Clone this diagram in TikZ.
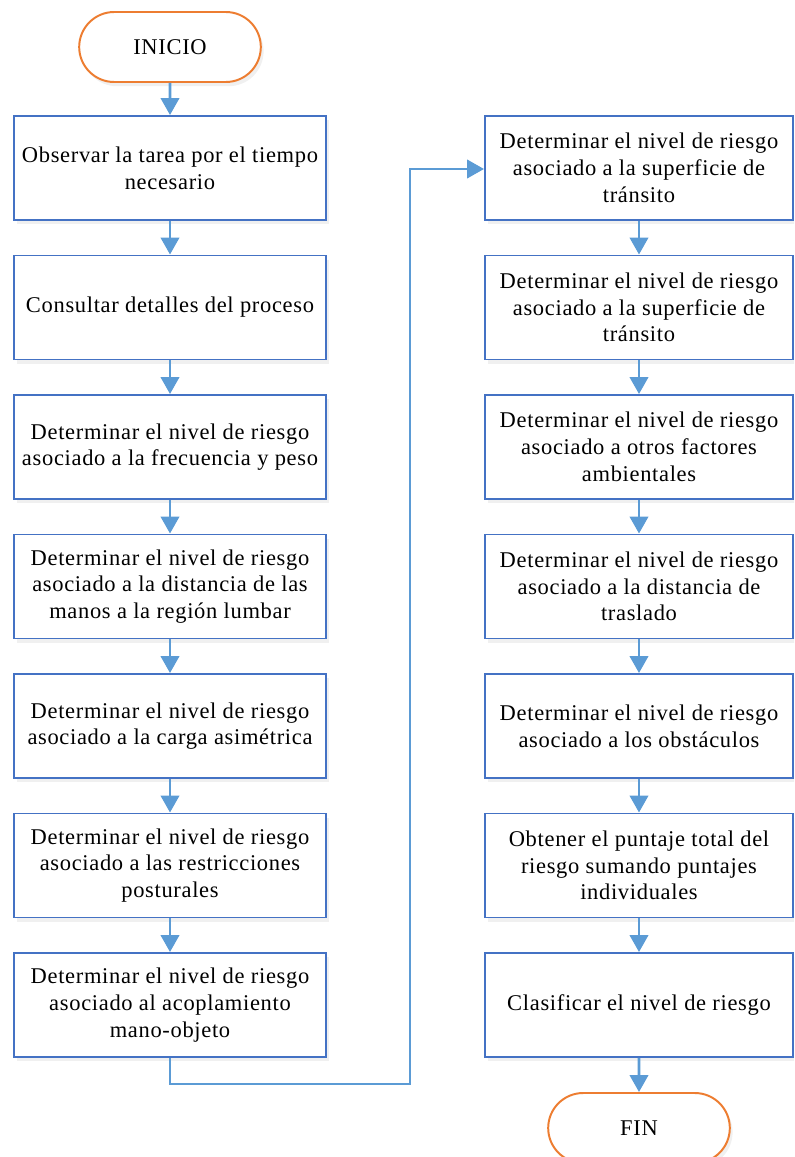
\documentclass[tikz,border=0pt]{standalone}
\usepackage{fontspec}
\setmainfont[LetterSpace=3]{Liberation Serif}
\usetikzlibrary{arrows.meta,shapes,positioning,shadows}

\definecolor{boxblue}{HTML}{4472C4}
\definecolor{lineblue}{HTML}{5B9BD5}
\definecolor{termorange}{HTML}{ED7D31}

\tikzset{
    paso/.style={draw=boxblue, line width=1.4pt, fill=white, align=center,
        minimum width=7.8cm, minimum height=2.6cm, inner sep=2pt,
        font=\fontsize{16}{19}\selectfont,
        drop shadow={opacity=0.12, shadow xshift=2pt, shadow yshift=-3pt}},
    terminal/.style={draw=termorange, line width=1.4pt, fill=white,
        rounded rectangle, minimum width=4.775cm, minimum height=1.75cm,
        font=\fontsize{16}{19}\selectfont,
        drop shadow={opacity=0.12, shadow xshift=2pt, shadow yshift=-3pt}},
    flecha/.style={draw=lineblue, line width=2pt,
        -{Triangle[width=13pt,length=12pt]}}
}

\begin{document}
\begin{tikzpicture}
            \useasboundingbox (0,0) rectangle (19.85,-28.925);
            \begin{scope}
            \clip (0,0) rectangle (19.85,-28.925);

            % inicio
            \node[terminal] (ini) at (4.25,-1.175) {INICIO};

            % columna izquierda
            \node[paso] (l1) at (4.25,-4.2) {Observar la tarea por el tiempo\\necesario};
            \node[paso] (l2) at (4.25,-7.6875) {Consultar detalles del proceso};
            \node[paso] (l3) at (4.25,-11.175) {Determinar el nivel de riesgo\\asociado a la frecuencia y peso};
            \node[paso] (l4) at (4.25,-14.6625) {Determinar el nivel de riesgo\\asociado a la distancia de las\\manos a la región lumbar};
            \node[paso] (l5) at (4.25,-18.15) {Determinar el nivel de riesgo\\asociado a la carga asimétrica};
            \node[paso] (l6) at (4.25,-21.6375) {Determinar el nivel de riesgo\\asociado a las restricciones\\posturales};
            \node[paso] (l7) at (4.25,-25.125) {Determinar el nivel de riesgo\\asociado al acoplamiento\\mano-objeto};

            % columna derecha
            \node[paso, minimum width=7.7cm] (r1) at (15.975,-4.2) {Determinar el nivel de riesgo\\asociado a la superficie de\\tránsito};
            \node[paso, minimum width=7.7cm] (r2) at (15.975,-7.6875) {Determinar el nivel de riesgo\\asociado a la superficie de\\tránsito};
            \node[paso, minimum width=7.7cm] (r3) at (15.975,-11.175) {Determinar el nivel de riesgo\\asociado a otros factores\\ambientales};
            \node[paso, minimum width=7.7cm] (r4) at (15.975,-14.6625) {Determinar el nivel de riesgo\\asociado a la distancia de\\traslado};
            \node[paso, minimum width=7.7cm] (r5) at (15.975,-18.15) {Determinar el nivel de riesgo\\asociado a los obstáculos};
            \node[paso, minimum width=7.7cm] (r6) at (15.975,-21.6375) {Obtener el puntaje total del\\riesgo sumando puntajes\\individuales};
            \node[paso, minimum width=7.7cm] (r7) at (15.975,-25.125) {Clasificar el nivel de riesgo};

            % fin
            \node[terminal] (fin) at (15.975,-28.2) {FIN};

            % flechas
            \draw[flecha] (ini) -- (l1);
            \draw[flecha] (l1) -- (l2);
            \draw[flecha] (l2) -- (l3);
            \draw[flecha] (l3) -- (l4);
            \draw[flecha] (l4) -- (l5);
            \draw[flecha] (l5) -- (l6);
            \draw[flecha] (l6) -- (l7);

            \coordinate (c1) at (4.25,-27.1);
            \coordinate (c2) at (10.25,-27.1);
            \coordinate (c3) at (10.25,-4.225);
            \draw[flecha] (l7.south) -- (c1) -- (c2) -- (c3) -- (r1.west |- c3);

            \draw[flecha] (r1) -- (r2);
            \draw[flecha] (r2) -- (r3);
            \draw[flecha] (r3) -- (r4);
            \draw[flecha] (r4) -- (r5);
            \draw[flecha] (r5) -- (r6);
            \draw[flecha] (r6) -- (r7);
            \draw[flecha] (r7) -- (fin);
            \end{scope}

        \end{tikzpicture}
\end{document}
